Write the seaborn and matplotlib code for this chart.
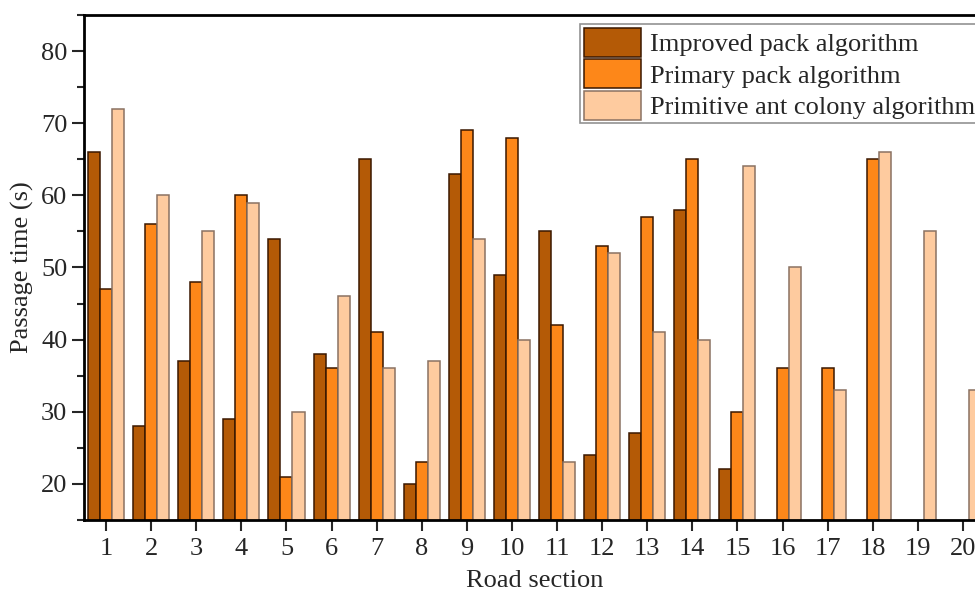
import numpy as np
import pandas as pd
import matplotlib
matplotlib.use("Agg")
import matplotlib.pyplot as plt
import seaborn as sns
from matplotlib.ticker import MultipleLocator

sections = [str(i) for i in range(1, 21)]
series_names = ["Improved pack algorithm", "Primary pack algorithm",
                "Primitive ant colony algorithm"]
improved = [66, 28, 37, 29, 54, 38, 65, 20, 63, 49, 55, 24, 27, 58, 22,
            np.nan, np.nan, np.nan, np.nan, np.nan]
primary = [47, 56, 48, 60, 21, 36, 41, 23, 69, 68, 42, 53, 57, 65, 30,
           36, 36, 65, np.nan, np.nan]
ant = [72, 60, 55, 59, 30, 46, 36, 37, 54, 40, 23, 52, 41, 40, 64,
       50, 33, 66, 55, 33]

colors = ["#B45A06", "#FD8719", "#FECB9F"]
edges = ["#3A1800", "#3A1800", "#8A7262"]

rows = []
for name, vals in zip(series_names, [improved, primary, ant]):
    for s, v in zip(sections, vals):
        rows.append({"Road section": s, "value": v, "series": name})
df = pd.DataFrame(rows)

sns.set_style("ticks")
plt.rcParams["font.family"] = ["Liberation Serif", "DejaVu Serif"]

fig = plt.figure(figsize=(9.75, 5.9), dpi=100)
ax = fig.add_axes([84/975, 1 - 520/590, (985 - 84)/975, (520 - 15)/590])

sns.barplot(data=df, x="Road section", y="value", hue="series",
            order=sections, hue_order=series_names, palette=colors,
            width=0.8, errorbar=None, ax=ax, linewidth=1.1, saturation=1)

for cont, ec in zip(ax.containers, edges):
    for p in cont:
        p.set_edgecolor(ec)

ax.set_ylim(15, 85)
ax.set_xlim(-0.49, 19.49)
ax.yaxis.set_major_locator(MultipleLocator(10))
ax.yaxis.set_minor_locator(MultipleLocator(5))
ax.set_yticks([20, 30, 40, 50, 60, 70, 80])
ax.tick_params(axis="y", which="major", length=9, width=1.5, labelsize=19,
               direction="out", pad=3)
ax.tick_params(axis="y", which="minor", length=5, width=1.5, direction="out")
ax.tick_params(axis="x", length=8, width=1.5, labelsize=19, direction="out", pad=5)
for sp in ["left", "bottom", "top", "right"]:
    ax.spines[sp].set_linewidth(2)
    ax.spines[sp].set_color("black")

ax.set_xlabel("Road section", fontsize=19, labelpad=7)
ax.set_ylabel("Passage time (s)", fontsize=19, labelpad=5)

leg = ax.legend(loc="upper left", bbox_to_anchor=(580/975, 1 - 24/590),
                bbox_transform=fig.transFigure, fontsize=19, frameon=True,
                fancybox=False, handlelength=2.15, handleheight=1.3,
                labelspacing=0.1, borderpad=0.15, handletextpad=0.35,
                borderaxespad=0)
leg.get_frame().set_edgecolor("#777777")
leg.get_frame().set_linewidth(1.2)
for h, ec in zip(leg.legend_handles, edges):
    h.set_edgecolor(ec)

fig.savefig("out.png", dpi=100)
